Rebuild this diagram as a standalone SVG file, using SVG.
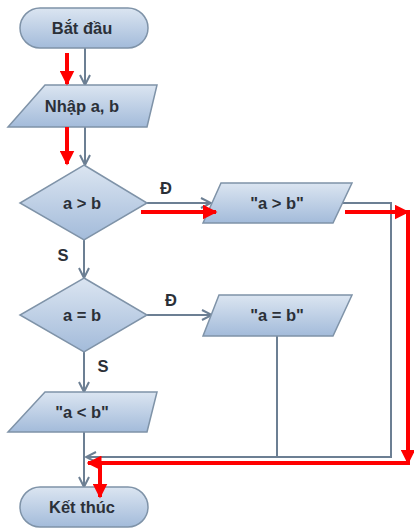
<svg xmlns="http://www.w3.org/2000/svg" width="414" height="529" viewBox="0 0 414 529">
<defs>
<linearGradient id="g" x1="0" y1="0" x2="0" y2="1">
<stop offset="0" stop-color="#dbe5f1"/>
<stop offset="1" stop-color="#a3bbda"/>
</linearGradient>
<marker id="v" viewBox="0 0 12 12" refX="11" refY="6" markerWidth="12" markerHeight="12" markerUnits="userSpaceOnUse" orient="auto">
<path d="M1,1 L11,6 L1,11" fill="none" stroke="#6c7f93" stroke-width="2"/>
</marker>
<marker id="r" viewBox="0 0 10 10" refX="9" refY="5" markerWidth="15" markerHeight="15" markerUnits="userSpaceOnUse" orient="auto">
<path d="M0,0 L10,5 L0,10 Z" fill="#ff0000"/>
</marker>
<style>
.n{fill:url(#g);stroke:#7f93a8;stroke-width:1.5}
.t{font-family:"Liberation Sans",Arial,sans-serif;font-weight:bold;font-size:16.5px;fill:#2b3038;text-anchor:middle;dominant-baseline:central}
.c{fill:none;stroke:#6c7f93;stroke-width:2}
.rd{fill:none;stroke:#ff0000;stroke-width:4}
</style>
</defs>
<g id="connectors">
<line class="c" x1="85" y1="48" x2="85" y2="85" marker-end="url(#v)"/>
<line class="c" x1="85" y1="127" x2="85" y2="165" marker-end="url(#v)"/>
<line class="c" x1="147" y1="203" x2="211" y2="203" marker-end="url(#v)"/>
<line class="c" x1="84" y1="240" x2="84" y2="278" marker-end="url(#v)"/>
<line class="c" x1="147" y1="315" x2="212" y2="315" marker-end="url(#v)"/>
<line class="c" x1="84" y1="352" x2="84" y2="392" marker-end="url(#v)"/>
<line class="c" x1="84" y1="432" x2="84" y2="487" marker-end="url(#v)"/>
<polyline class="c" points="343,203 391,203 391,457 86,457" marker-end="url(#v)"/>
<line class="c" x1="277" y1="336" x2="277" y2="457"/>
<text class="t" x="166" y="188">Đ</text>
<text class="t" x="171" y="300">Đ</text>
<text class="t" x="63" y="255">S</text>
<text class="t" x="103" y="366">S</text>
</g>
<g id="n-start"><rect class="n" x="20" y="8" width="128" height="40" rx="20"/><text class="t" x="82" y="28">Bắt đầu</text></g>
<g id="n-input"><polygon class="n" points="45,85 157,85 147,127 8,127"/><text class="t" x="82" y="106">Nhập a, b</text></g>
<g id="n-d1"><polygon class="n" points="84,165 147,203 84,240 20,203"/><text class="t" x="82" y="203">a &gt; b</text></g>
<g id="n-o1"><polygon class="n" points="221,183 352,183 333,223 203,223"/><text class="t" x="277" y="203">"a &gt; b"</text></g>
<g id="n-d2"><polygon class="n" points="84,278 147,315 84,352 20,315"/><text class="t" x="82" y="315">a = b</text></g>
<g id="n-o2"><polygon class="n" points="219,295 352,295 333,336 203,336"/><text class="t" x="277" y="315">"a = b"</text></g>
<g id="n-o3"><polygon class="n" points="45,392 157,392 147,432 8,432"/><text class="t" x="82" y="412">"a &lt; b"</text></g>
<g id="n-end"><rect class="n" x="20" y="487" width="128" height="40" rx="20"/><text class="t" x="82" y="507">Kết thúc</text></g>
<g id="red">
<line class="rd" x1="67" y1="53" x2="67" y2="84" marker-end="url(#r)"/>
<line class="rd" x1="67" y1="127" x2="67" y2="164" marker-end="url(#r)"/>
<line class="rd" x1="141" y1="212" x2="216" y2="212" marker-end="url(#r)"/>
<line class="rd" x1="345" y1="212" x2="408" y2="212" marker-end="url(#r)"/>
<line class="rd" x1="408" y1="210" x2="408" y2="463" marker-end="url(#r)"/>
<line class="rd" x1="410" y1="463" x2="88" y2="463" marker-end="url(#r)"/>
<line class="rd" x1="100" y1="463" x2="100" y2="497" marker-end="url(#r)"/>
</g>
</svg>
